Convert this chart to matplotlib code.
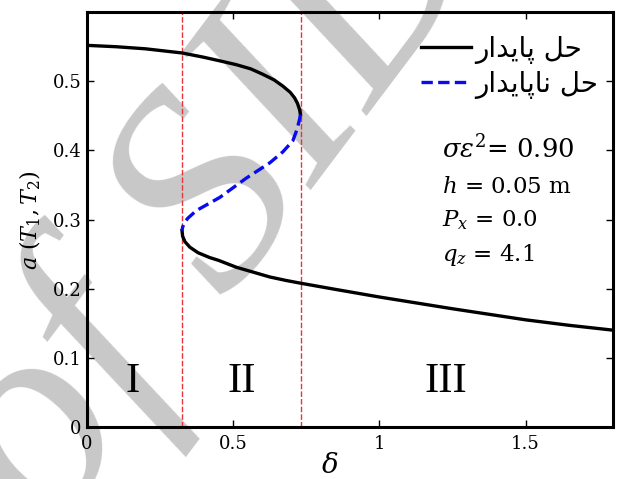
import matplotlib
matplotlib.use("Agg")
import matplotlib.pyplot as plt

# --- datos ---
# rama estable superior
sup_x = [0.0, 0.1, 0.2, 0.283, 0.325, 0.397, 0.45, 0.511, 0.56, 0.602, 0.64,
         0.670, 0.695, 0.710, 0.720, 0.727, 0.730]
sup_y = [0.552, 0.550, 0.547, 0.543, 0.541, 0.535, 0.530, 0.524, 0.518, 0.510,
         0.502, 0.493, 0.484, 0.476, 0.468, 0.459, 0.452]
# rama inestable
ines_x = [0.730, 0.727, 0.718, 0.704, 0.67, 0.625, 0.545, 0.454, 0.374, 0.345,
          0.334, 0.327, 0.325]
ines_y = [0.452, 0.445, 0.430, 0.414, 0.398, 0.382, 0.360, 0.332, 0.313, 0.302,
          0.296, 0.289, 0.284]
# rama estable inferior
inf_x = [0.325, 0.327, 0.335, 0.352, 0.38, 0.42, 0.45, 0.511, 0.56, 0.625,
         0.68, 0.730, 0.85, 1.0, 1.25, 1.5, 1.65, 1.8]
inf_y = [0.284, 0.276, 0.268, 0.260, 0.252, 0.245, 0.241, 0.231, 0.225, 0.217,
         0.212, 0.208, 0.199, 0.188, 0.171, 0.155, 0.147, 0.140]

limites = [0.325, 0.732]
regiones = ["I", "II", "III"]
regiones_x = [0.157, 0.528, 1.229]

xticks = [0, 0.5, 1, 1.5]
xtick_labels = ["0", "0.5", "1", "1.5"]
yticks = [0, 0.1, 0.2, 0.3, 0.4, 0.5]
ytick_labels = ["0", "0.1", "0.2", "0.3", "0.4", "0.5"]

leyenda = ["حل پایدار", "حل ناپایدار"]
parametros = [r"$\sigma\varepsilon^2$= 0.90", r"$h$ = 0.05 m",
              r"$P_x$ = 0.0", r"$q_z$ = 4.1"]
parametros_y = [0.389, 0.339, 0.290, 0.240]
parametros_size = [18.5, 16.5, 16.5, 16.5]

# formas de presentacion arabes (aislada, final, inicial, medial)
FORMAS = {
    "ح": "\uFEA1\uFEA2\uFEA3\uFEA4",
    "ل": "\uFEDD\uFEDE\uFEDF\uFEE0",
    "پ": "\uFB56\uFB57\uFB58\uFB59",
    "ی": "\uFBFC\uFBFD\uFBFE\uFBFF",
    "ن": "\uFEE5\uFEE6\uFEE7\uFEE8",
    "ا": "\uFE8D\uFE8E",
    "د": "\uFEA9\uFEAA",
    "ر": "\uFEAD\uFEAE",
}


def persa(texto):
    out = []
    for i, c in enumerate(texto):
        if c not in FORMAS:
            out.append(c)
            continue
        prev = texto[i - 1] if i > 0 else " "
        nxt = texto[i + 1] if i + 1 < len(texto) else " "
        une_prev = prev in FORMAS and len(FORMAS[prev]) == 4
        une_sig = len(FORMAS[c]) == 4 and nxt in FORMAS
        if une_prev and une_sig:
            f = 3
        elif une_prev:
            f = 1
        elif une_sig:
            f = 2
        else:
            f = 0
        out.append(FORMAS[c][f])
    return "".join(out[::-1])


plt.rcParams["font.family"] = "DejaVu Serif"
plt.rcParams["mathtext.fontset"] = "dejavuserif"

fig = plt.figure(figsize=(6.17, 4.79), dpi=100)
ax = fig.add_axes([0.141, 0.1086, 0.853, 0.866])
ax.patch.set_alpha(0)

# marca de agua
fig.text(0.35, 0.58, "of SID", fontsize=205, family="Liberation Serif",
         style="italic", color="#c8c8c8", rotation=53, ha="center",
         va="center", rotation_mode="anchor", zorder=-5)

for xv in limites:
    ax.axvline(xv, color="#e8343a", lw=1.0, ls=(0, (4, 1.5)), zorder=1)

l1, = ax.plot(sup_x, sup_y, color="black", lw=2.4, zorder=3)
ax.plot(inf_x, inf_y, color="black", lw=2.4, zorder=3)
l2, = ax.plot(ines_x, ines_y, color="#0a0af0", lw=2.4, ls=(0, (3.4, 1.6)),
              zorder=3)

for xv, t in zip(regiones_x, regiones):
    ax.text(xv, 0.065, t, fontsize=31, family="Liberation Serif",
            ha="center", va="center")

for t, yv, fs in zip(parametros, parametros_y, parametros_size):
    ax.text(1.215, yv, t, fontsize=fs, ha="left", va="baseline")

ax.legend([l1, l2], [persa(s) for s in leyenda], loc="upper left",
          bbox_to_anchor=(0.634, 0.946), frameon=False, borderpad=0,
          borderaxespad=0, handlelength=1.8, handletextpad=0.18,
          labelspacing=0.22, prop={"family": "DejaVu Sans", "size": 20})

ax.set_xlim(0, 1.8)
ax.set_ylim(0, 0.6)
ax.set_xticks(xticks)
ax.set_xticklabels(xtick_labels)
ax.set_yticks(yticks)
ax.set_yticklabels(ytick_labels)
ax.tick_params(direction="in", top=True, right=True, length=5, width=1,
               labelsize=13)
ax.tick_params(axis="x", pad=6)
ax.tick_params(axis="y", pad=4)
for s in ax.spines.values():
    s.set_linewidth(2.2)

ax.set_xlabel(r"$\delta$", fontsize=20)
ax.xaxis.set_label_coords(0.461, -0.06)
ax.set_ylabel(r"$a\ (T_1, T_2)$", fontsize=16)
ax.yaxis.set_label_coords(-0.083, 0.5)

fig.savefig("out.png", dpi=100)
